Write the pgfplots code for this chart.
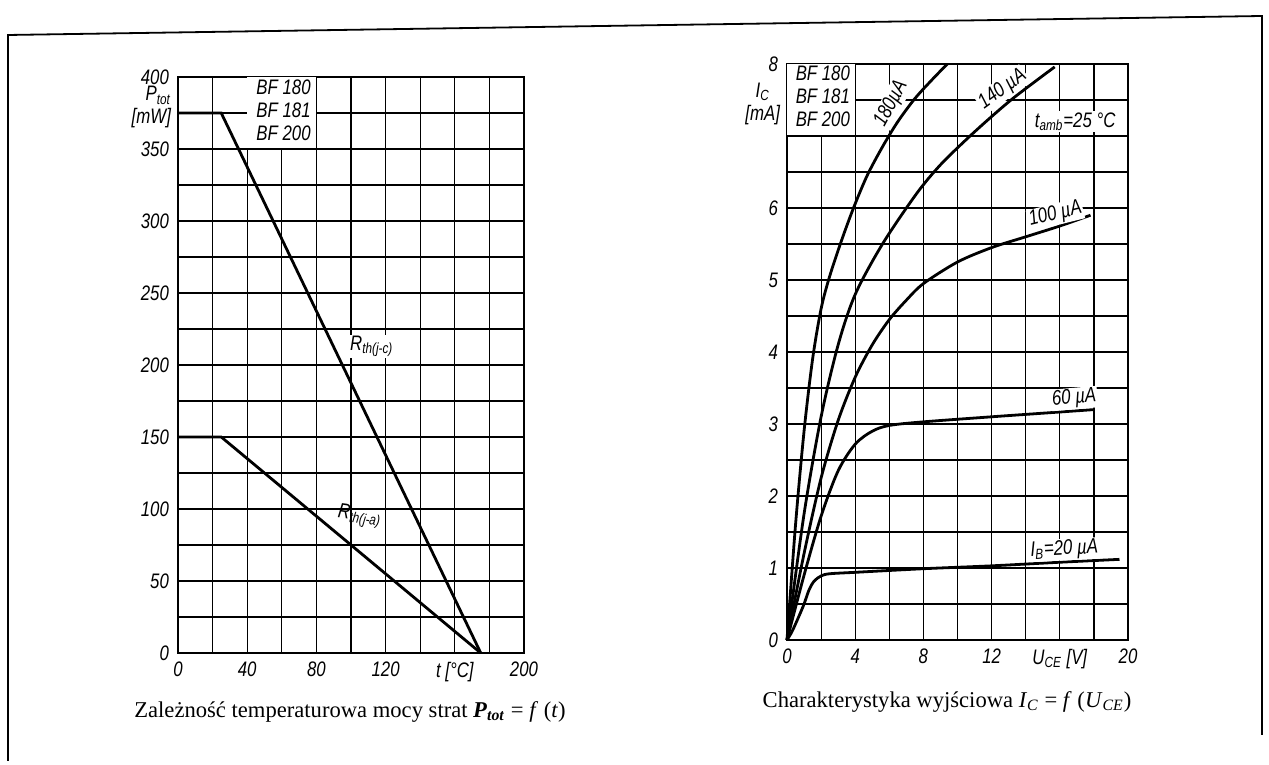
\documentclass[border=0pt]{standalone}
\usepackage{fontspec}
\setmainfont{Liberation Sans}[FakeStretch=0.8]
\newfontfamily\capfont{Liberation Serif}
\usepackage{pgfplots}
\pgfplotsset{compat=1.18}

\newcommand\tickfont{\itshape\fontsize{10.5}{11.5}\selectfont}

\pgfplotsset{
  sheet/.style={
    scale only axis,
    clip=false,
    axis on top=false,
    axis line style={black, line width=0.8pt},
    grid=both,
    major grid style={black, line width=0.6pt},
    minor grid style={black, line width=0.6pt},
    minor tick num=1,
    major tick length=0pt, minor tick length=0pt,
    tick label style={font=\tickfont},
    xticklabel style={yshift=-1pt},
    yticklabel style={xshift=-1pt},
    /pgf/number format/assume math mode=true,
  },
  curve/.style={black, line width=1.4pt, no marks},
}
\tikzset{lab/.style={font=\tickfont, fill=white, inner sep=0.6pt}}

\begin{document}
\begin{tikzpicture}
\path[use as bounding box] (0,0) rectangle (634.5pt,382.5pt);

% frame of the scanned sheet
\draw[line width=0.9pt] (4pt,2pt) -- (4pt,365pt) -- (631pt,374.5pt) -- (631pt,15pt);

% ---- left: power derating
\begin{axis}[sheet,
  at={(89pt,56pt)}, anchor=south west,
  width=173pt, height=288pt,
  xmin=0, xmax=200, ymin=0, ymax=400,
  xtick={0,40,80,120,160,200},
  xticklabels={0,40,80,120,{t [°C]},200},
  ytick={0,50,...,400},
]
\fill[white] (axis cs:40,350) rectangle (axis cs:80,400);
\draw[line width=0.6pt] (axis cs:40,350) -- (axis cs:80,350) -- (axis cs:80,400);
\node[font=\tickfont, align=left] at (axis cs:61,377) {BF 180\\BF 181\\BF 200};

\addplot[curve] coordinates {(0,375) (25,375) (175,0)};
\addplot[curve] coordinates {(0,150) (25,150) (175,0)};

\node[lab] at (axis cs:112,213) {R\textsubscript{th(j-c)}};
\node[lab, rotate=-8, fill=none] at (axis cs:105,95) {R\textsubscript{th(j-a)}};
\node[font=\tickfont, anchor=east, align=right] at (axis cs:0,379) {P\textsubscript{tot}\\{}[mW]};
\end{axis}

% ---- right: output characteristics
\begin{axis}[sheet,
  at={(393.5pt,62.5pt)}, anchor=south west,
  width=170.5pt, height=288pt,
  xmin=0, xmax=20, ymin=0, ymax=8,
  xtick={0,4,8,12,16,20},
  xticklabels={0,4,8,12,{U\textsubscript{CE} [V]},20},
  ytick={0,1,...,8},
  yticklabels={0,1,2,3,4,5,6,{},8},
]
\fill[white] (axis cs:0,7) rectangle (axis cs:4,8);
\draw[line width=0.6pt] (axis cs:0,7) -- (axis cs:4,7) -- (axis cs:4,8);
\node[font=\tickfont, align=left, anchor=west] at (axis cs:0.1,7.55) {BF 180\\BF 181\\BF 200};

% I_B = 180 uA
\addplot[curve, smooth, tension=0.5] coordinates {
  (0,0) (0.5,1.6) (1,2.9) (1.5,3.9) (2,4.6) (2.5,5.05) (3.2,5.55) (3.9,6.0)
  (4.7,6.45) (5.6,6.85) (6.5,7.2) (7.5,7.52) (8.5,7.78) (9.4,8.0)};
% 140 uA
\addplot[curve, smooth, tension=0.5] coordinates {
  (0,0) (1,1.75) (2,3.1) (3,4.1) (4,4.8) (5.6,5.5) (7.6,6.2)
  (9,6.6) (10.6,6.97) (12,7.27) (13.4,7.55) (15.7,7.96)};
% 100 uA
\addplot[curve, smooth, tension=0.5] coordinates {
  (0,0) (1,1.2) (2,2.25) (3,3.05) (4,3.65) (5,4.1) (6,4.45) (7,4.72)
  (8,4.95) (10,5.25) (12,5.45) (14,5.6) (16,5.75) (17.8,5.9)};
% 60 uA
\addplot[curve, smooth, tension=0.5] coordinates {
  (0,0) (1,0.9) (2,1.72) (3,2.35) (4,2.72) (5,2.9) (6,2.98) (8,3.03)
  (12,3.1) (15,3.15) (18,3.2)};
% 20 uA
\addplot[curve, smooth, tension=0.5] coordinates {
  (0,0) (0.3,0.12) (0.7,0.33) (1,0.5) (1.3,0.7) (1.6,0.82) (2,0.89)
  (2.5,0.92) (4,0.94) (8,0.99) (12,1.03) (16,1.08) (19.5,1.12)};

\node[lab, rotate=62, anchor=south, yshift=1pt] at (axis cs:6.8,7.36) {180µA};
\node[lab, rotate=36, anchor=south, yshift=1pt] at (axis cs:13.1,7.5) {140 µA};
\node[lab] at (axis cs:16.9,7.2) {t\textsubscript{amb}=25 °C};
\node[lab, rotate=14, anchor=south] at (axis cs:15.9,5.76) {100 µA};
\node[lab, rotate=5, anchor=south] at (axis cs:16.9,3.2) {60 µA};
\node[lab, rotate=3, anchor=south] at (axis cs:16.3,1.1) {I\textsubscript{B}=20 µA};
\node[font=\tickfont, anchor=east, align=center] at (axis cs:0,7.45) {I\textsubscript{C}\\{}[mA]};
\end{axis}

% captions
\node[font=\capfont\fontsize{11.3}{13}\selectfont] at (175pt,26.5pt)
  {Zależność temperaturowa mocy strat \textbf{\textit{P}\textsubscript{\textit{tot}}} = \textit{f} (\textit{t})};
\node[font=\capfont\fontsize{11.3}{13}\selectfont] at (473.5pt,31.5pt)
  {Charakterystyka wyjściowa \textit{I}\textsubscript{\textit{C}} = \textit{f} (\textit{U}\textsubscript{\textit{CE}})};
\end{tikzpicture}
\end{document}
